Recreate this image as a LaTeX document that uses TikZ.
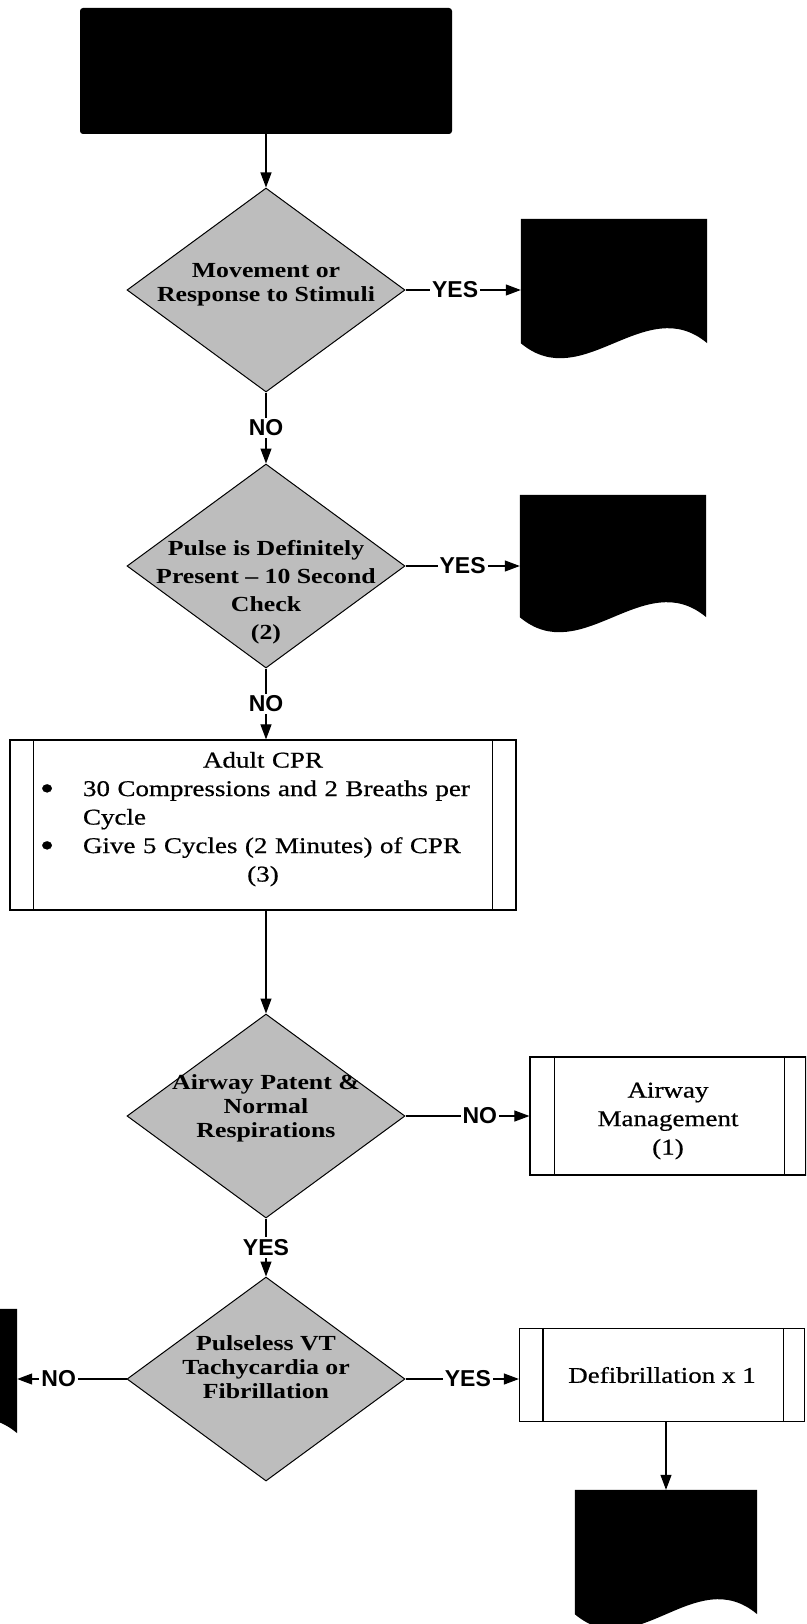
\documentclass[tikz,border=0pt]{standalone}
\usepackage{fontspec}
\setmainfont{Liberation Serif}[FakeStretch=1.2]
\newfontfamily\boxfont{Liberation Serif}[FakeStretch=1.2, FakeBold=0.6]
\newfontfamily\labelfont{Liberation Sans}
\usetikzlibrary{arrows.meta,shapes.geometric,calc}

\begin{document}
\begin{tikzpicture}[x=1pt,y=-1pt,
  conn/.style={line width=1.1pt,-{Triangle[length=15pt,width=11pt]}},
  plain/.style={line width=1.2pt},
  decision/.style={diamond, draw, line width=1pt, fill=black!26,
    minimum width=278pt, minimum height=204pt, inner sep=0pt},
  dtext/.style={align=center, font=\bfseries\fontsize{21.5}{24}\selectfont},
  procbox/.style={rectangle, draw, line width=1.2pt, fill=white, inner sep=0pt},
  boxtext/.style={font=\boxfont\fontsize{22.5}{28.5}\selectfont, align=center},
  doc/.style={rectangle, inner sep=0pt},
  lab/.style={fill=white, inner sep=2pt, font=\labelfont\bfseries\fontsize{23}{23}\selectfont},
  blackbox/.style={rectangle, fill=black, rounded corners=3pt, inner sep=0pt}
]
\useasboundingbox (0,0) rectangle (806,1624);
\clip (0,0) rectangle (806,1624);

% start block
\node[blackbox, minimum width=372pt, minimum height=126pt] (start) at (266,71) {};

% decisions
\node[decision, label={[dtext, yshift=5pt]center:Movement or\\Response to Stimuli}] (d1) at (266,290) {};
\node[decision, label={[dtext, yshift=-26pt, font=\bfseries\fontsize{21.5}{28}\selectfont]center:Pulse is Definitely\\Present -- 10 Second\\Check\\(2)}] (d2) at (266,566) {};
\node[decision, label={[dtext, yshift=8pt]center:Airway Patent \&\\Normal\\Respirations}] (d3) at (266,1116) {};
\node[decision, label={[dtext, yshift=12pt]center:Pulseless VT\\Tachycardia or\\Fibrillation}] (d4) at (266,1379) {};

% off-page document shapes: node boxes, filled with a wavy bottom edge
\node[doc, minimum width=186pt, minimum height=124pt] (doc1) at (614,281) {};
\node[doc, minimum width=186pt, minimum height=122pt] (doc2) at (613,556) {};
\node[doc, minimum width=186pt, minimum height=124pt] (ldoc) at (-76,1371) {};
\node[doc, minimum width=182pt, minimum height=124pt] (doc4) at (666,1552) {};
\foreach \d in {doc1,doc2,ldoc,doc4}{
  \fill (\d.north west) -- (\d.north east) -- (\d.south east)
    .. controls ($(\d.south east)+(-62,-52)$) and ($(\d.south west)+(62,52)$) .. (\d.south west) -- cycle;
}

% predefined process boxes
\node[procbox, minimum width=506pt, minimum height=170pt] (cpr) at (263,825) {};
\draw[plain] ([xshift=24pt]cpr.north west) -- ([xshift=24pt]cpr.south west)
             ([xshift=-24pt]cpr.north east) -- ([xshift=-24pt]cpr.south east);
\node[boxtext, anchor=north, text width=490pt, align=left] at ([yshift=-9pt]cpr.north) {%
  \makebox[\linewidth][c]{Adult CPR}\\
  \makebox[65pt][l]{\hspace{22pt}\raisebox{-3.5pt}{\scalebox{1.5}{\textbullet}}}30 Compressions and 2 Breaths per\\
  \hspace*{65pt}Cycle\\
  \makebox[65pt][l]{\hspace{22pt}\raisebox{-3.5pt}{\scalebox{1.5}{\textbullet}}}Give 5 Cycles (2 Minutes) of CPR\\
  \makebox[\linewidth][c]{(3)}};

\node[procbox, minimum width=276pt, minimum height=118pt] (air) at (668,1116) {};
\draw[plain] ([xshift=25pt]air.north west) -- ([xshift=25pt]air.south west)
             ([xshift=-22pt]air.north east) -- ([xshift=-22pt]air.south east);
\node[boxtext, yshift=-5pt] at (air) {Airway\\Management\\(1)};

\node[procbox, minimum width=285pt, minimum height=93pt] (defib) at (662,1375) {};
\draw[plain] ([xshift=24pt]defib.north west) -- ([xshift=24pt]defib.south west)
             ([xshift=-22pt]defib.north east) -- ([xshift=-22pt]defib.south east);
\node[boxtext] at (defib) {Defibrillation x 1};

% connectors
\draw[conn] (start.south) -- (d1.north);
\draw[conn] (d1.east) -- node[lab, pos=0.43]{YES} (d1.east -| doc1.west);
\draw[conn] (d1.south) -- node[lab]{NO} (d2.north);
\draw[conn] (d2.east) -- node[lab, pos=0.5]{YES} (d2.east -| doc2.west);
\draw[conn] (d2.south) -- node[lab]{NO} (d2.south |- cpr.north);
\draw[conn] (d3.north |- cpr.south) -- (d3.north);
\draw[conn] (d3.east) -- node[lab, pos=0.6]{NO} (d3.east -| air.west);
\draw[conn] (d3.south) -- node[lab]{YES} (d4.north);
\draw[conn] (d4.east) -- node[lab, pos=0.55]{YES} (d4.east -| defib.west);
\draw[conn] (d4.west) -- node[lab, pos=0.62]{NO} (d4.west -| ldoc.east);
\draw[conn] (doc4.north |- defib.south) -- (doc4.north);
\end{tikzpicture}
\end{document}
